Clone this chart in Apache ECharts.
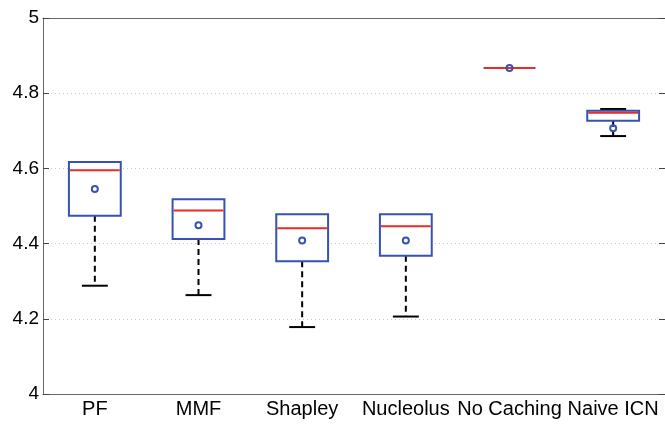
<!DOCTYPE html>
<html>
<head>
<meta charset="utf-8">
<script src="https://cdn.jsdelivr.net/npm/echarts@6/dist/echarts.min.js"></script>
<style>
html,body{margin:0;padding:0;background:#fff;}
#chart{width:665px;height:424px;}
</style>
</head>
<body>
<div id="chart"></div>
<script>
var categories = ['PF', 'MMF', 'Shapley', 'Nucleolus', 'No Caching', 'Naive ICN'];
var whiskerLow  = [4.288, 4.263, 4.178, 4.206, 4.867, 4.686];
var q1          = [4.474, 4.412, 4.353, 4.368, 4.867, 4.727];
var medians     = [4.595, 4.488, 4.441, 4.446, 4.867, 4.748];
var q3          = [4.617, 4.518, 4.478, 4.478, 4.867, 4.753];
var whiskerHigh = [4.617, 4.518, 4.478, 4.478, 4.867, 4.758];
var means       = [4.545, 4.449, 4.408, 4.408, 4.867, 4.707];
var yTicks = [4, 4.2, 4.4, 4.6, 4.8, 5];

var data = categories.map(function (c, i) {
  return [i, whiskerLow[i], q1[i], medians[i], q3[i], whiskerHigh[i], means[i]];
});

var BLUE = '#3653b3', RED = '#ee2a24', BLACK = '#000';
var FONT = 'Liberation Sans, Arial, Helvetica, sans-serif';

function renderItem(params, api) {
  var x = api.value(0);
  var band = api.size([1, 0])[0];
  var bw = band * 0.5, cw = band * 0.25;
  var pLow = api.coord([x, api.value(1)]);
  var pQ1 = api.coord([x, api.value(2)]);
  var pMed = api.coord([x, api.value(3)]);
  var pQ3 = api.coord([x, api.value(4)]);
  var pHigh = api.coord([x, api.value(5)]);
  var pMean = api.coord([x, api.value(6)]);
  var cx = pMed[0];
  var ch = [];
  if (pLow[1] > pQ1[1] + 0.5) {
    ch.push({type: 'line', shape: {x1: cx, y1: pQ1[1], x2: cx, y2: pLow[1]},
      style: {stroke: BLACK, lineWidth: 2, lineDash: [6, 4]}});
    ch.push({type: 'line', shape: {x1: cx - cw / 2, y1: pLow[1], x2: cx + cw / 2, y2: pLow[1]},
      style: {stroke: BLACK, lineWidth: 2}});
  }
  if (pHigh[1] < pQ3[1] - 0.5) {
    ch.push({type: 'line', shape: {x1: cx, y1: pQ3[1], x2: cx, y2: pHigh[1]},
      style: {stroke: BLACK, lineWidth: 2, lineDash: [6, 4]}});
    ch.push({type: 'line', shape: {x1: cx - cw / 2, y1: pHigh[1], x2: cx + cw / 2, y2: pHigh[1]},
      style: {stroke: BLACK, lineWidth: 2}});
  }
  ch.push({type: 'rect', shape: {x: cx - bw / 2, y: pQ3[1], width: bw, height: pQ1[1] - pQ3[1]},
    style: {stroke: BLUE, lineWidth: 2, fill: '#fff'}});
  ch.push({type: 'line', shape: {x1: cx - bw / 2 + 1, y1: pMed[1], x2: cx + bw / 2 - 1, y2: pMed[1]},
    style: {stroke: RED, lineWidth: 2}});
  ch.push({type: 'circle', shape: {cx: cx, cy: pMean[1], r: 3},
    style: {stroke: BLUE, lineWidth: 2, fill: null}});
  return {type: 'group', children: ch};
}

var chart = echarts.init(document.getElementById('chart'), null, {renderer: 'canvas'});
chart.setOption({
  animation: false,
  backgroundColor: '#fff',
  grid: {left: 43, top: 18, width: 625, height: 376},
  xAxis: [{
    type: 'category', data: categories, position: 'bottom',
    axisLine: {lineStyle: {color: '#666', width: 1}},
    axisTick: {inside: true, length: 6, alignWithLabel: true, lineStyle: {color: '#444'}},
    axisLabel: {color: '#000', fontSize: 20, fontFamily: FONT, margin: 5, interval: 0},
    splitLine: {show: false}
  }, {
    type: 'category', data: categories, position: 'top',
    axisLine: {lineStyle: {color: '#666', width: 1}},
    axisTick: {inside: true, length: 6, alignWithLabel: true, lineStyle: {color: '#444'}},
    axisLabel: {show: false}, splitLine: {show: false}
  }],
  yAxis: [{
    type: 'value', min: 4, max: 5, interval: 0.2, position: 'left',
    axisLine: {show: true, lineStyle: {color: '#666', width: 1}},
    axisTick: {show: true, inside: true, length: 6, lineStyle: {color: '#444'}},
    axisLabel: {color: '#000', fontSize: 19, fontFamily: FONT, margin: 4,
      formatter: function (v) {
        for (var i = 0; i < yTicks.length; i++) { if (Math.abs(yTicks[i] - v) < 1e-6) return String(yTicks[i]); }
        return '';
      }},
    splitLine: {show: true, lineStyle: {color: '#c8c8c8', type: [1, 3], width: 1}}
  }, {
    type: 'value', min: 4, max: 5, interval: 0.2, position: 'right',
    axisLine: {show: true, lineStyle: {color: '#666', width: 1}},
    axisTick: {show: true, inside: true, length: 6, lineStyle: {color: '#444'}},
    axisLabel: {show: false}, splitLine: {show: false}
  }],
  series: [{
    type: 'custom',
    renderItem: renderItem,
    xAxisIndex: 0, yAxisIndex: 0,
    data: data,
    encode: {x: 0, y: [1, 2, 3, 4, 5, 6]},
    z: 5
  }]
});
</script>
</body>
</html>
